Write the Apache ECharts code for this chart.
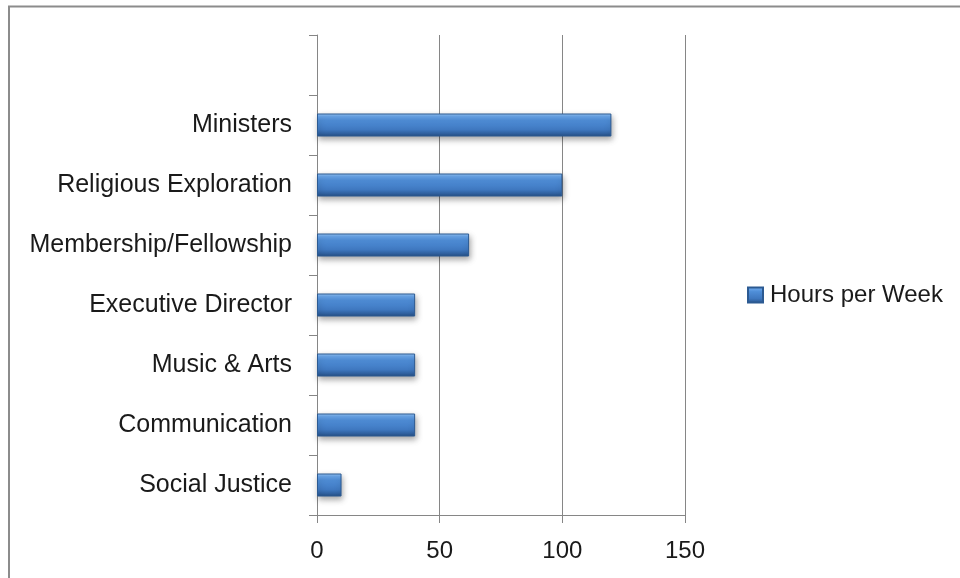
<!DOCTYPE html>
<html>
<head>
<meta charset="utf-8">
<script src="https://cdn.jsdelivr.net/npm/echarts@6/dist/echarts.min.js"></script>
<style>
html,body{margin:0;padding:0;background:#fff;}
#chart{width:960px;height:578px;}
</style>
</head>
<body>
<div id="chart"></div>
<script>
const categories = ['Social Justice', 'Communication', 'Music & Arts', 'Executive Director', 'Membership/Fellowship', 'Religious Exploration', 'Ministers', ''];
const hoursPerWeek = [10, 40, 40, 40, 62, 100, 120, null];
const seriesName = 'Hours per Week';
const xTicks = { min: 0, max: 150, interval: 50 };

const chart = echarts.init(document.getElementById('chart'), null, { renderer: 'canvas' });
const barGradient = new echarts.graphic.LinearGradient(0, 0, 0, 1, [
  { offset: 0, color: '#9cc8f6' },
  { offset: 0.12, color: '#6aa6ea' },
  { offset: 0.3, color: '#4f8ed8' },
  { offset: 0.7, color: '#3f78c0' },
  { offset: 0.88, color: '#30619f' },
  { offset: 1, color: '#234c80' }
]);
const fontFamily = '"Liberation Sans", Arial, sans-serif';
chart.setOption({
  animation: false,
  backgroundColor: '#ffffff',
  graphic: [
    { type: 'line', shape: { x1: 8, y1: 6.5, x2: 960, y2: 6.5 }, style: { stroke: '#8c8c8c', lineWidth: 2 } },
    { type: 'line', shape: { x1: 9, y1: 6, x2: 9, y2: 578 }, style: { stroke: '#8c8c8c', lineWidth: 2 } }
  ],
  grid: { left: 317, right: 275, top: 35, bottom: 63, containLabel: false },
  legend: {
    data: [seriesName],
    left: 747,
    top: 283,
    padding: 0,
    itemWidth: 15,
    itemHeight: 15,
    itemGap: 10,
    icon: 'rect',
    textStyle: { fontFamily: fontFamily, fontSize: 24, color: '#1a1a1a', padding: [0, 0, 0, 2] }
  },
  xAxis: {
    type: 'value',
    min: xTicks.min,
    max: xTicks.max,
    interval: xTicks.interval,
    axisLine: { show: true, lineStyle: { color: '#868686', width: 1 } },
    axisTick: { show: true, length: 8, lineStyle: { color: '#868686' } },
    axisLabel: { fontFamily: fontFamily, fontSize: 24, color: '#1a1a1a', margin: 24 },
    splitLine: { show: true, lineStyle: { color: '#868686', width: 1 } }
  },
  yAxis: {
    type: 'category',
    data: categories,
    boundaryGap: true,
    axisLine: { show: true, lineStyle: { color: '#868686', width: 1 } },
    axisTick: { show: true, length: 8, alignWithLabel: false, lineStyle: { color: '#868686' } },
    axisLabel: { fontFamily: fontFamily, fontSize: 25, color: '#1a1a1a', margin: 25, interval: 0 },
    splitLine: { show: false }
  },
  series: [{
    name: seriesName,
    type: 'bar',
    data: hoursPerWeek,
    barWidth: 23,
    itemStyle: {
      color: barGradient,
      borderColor: '#2c5a92',
      borderWidth: 1,
      shadowColor: 'rgba(0,0,0,0.35)',
      shadowBlur: 6,
      shadowOffsetX: 1,
      shadowOffsetY: 3
    }
  }]
});
</script>
</body>
</html>
